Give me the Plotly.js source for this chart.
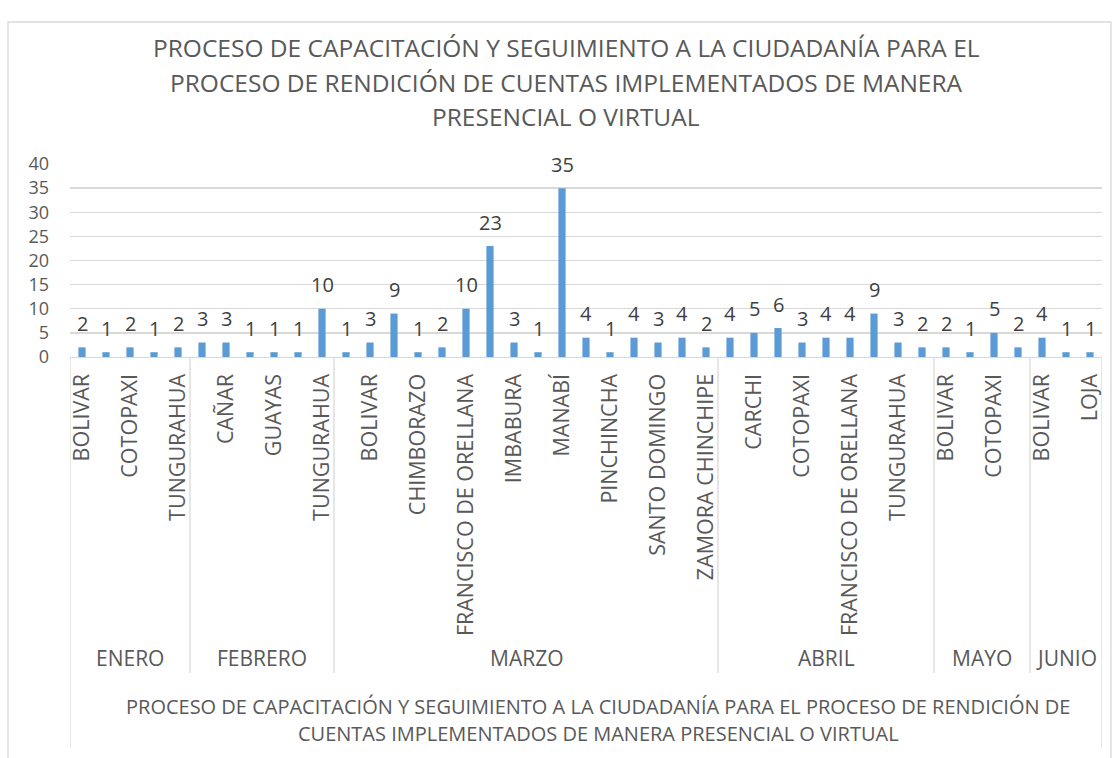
<!DOCTYPE html>
<html><head><meta charset="utf-8">
<script src="https://cdn.plot.ly/plotly-3.0.1.min.js"></script>
<style>html,body{margin:0;padding:0;background:#fff}#chart{width:1119px;height:758px}</style>
</head><body><div id="chart"></div>
<script>
const months = ["ENERO", "FEBRERO", "MARZO", "ABRIL", "MAYO", "JUNIO"];
const monthCounts = [5, 6, 16, 9, 4, 3];
const provinces = [
  "BOLIVAR", "", "COTOPAXI", "", "TUNGURAHUA",
  "", "CAÑAR", "", "GUAYAS", "", "TUNGURAHUA",
  "", "BOLIVAR", "", "CHIMBORAZO", "", "FRANCISCO DE ORELLANA", "", "IMBABURA", "", "MANABÍ", "", "PINCHINCHA", "", "SANTO DOMINGO", "", "ZAMORA CHINCHIPE",
  "", "CARCHI", "", "COTOPAXI", "", "FRANCISCO DE ORELLANA", "", "TUNGURAHUA", "",
  "BOLIVAR", "", "COTOPAXI", "",
  "BOLIVAR", "", "LOJA"
];
const values = [
  2, 1, 2, 1, 2,
  3, 3, 1, 1, 1, 10,
  1, 3, 9, 1, 2, 10, 23, 3, 1, 35, 4, 1, 4, 3, 4, 2,
  4, 5, 6, 3, 4, 4, 9, 3, 2,
  2, 1, 5, 2,
  4, 1, 1
];
const titleLines = [
  "PROCESO DE CAPACITACIÓN Y SEGUIMIENTO A LA CIUDADANÍA PARA EL",
  "PROCESO DE RENDICIÓN DE CUENTAS IMPLEMENTADOS DE MANERA",
  "PRESENCIAL O VIRTUAL"
];
const axisTitleLines = [
  "PROCESO DE CAPACITACIÓN Y SEGUIMIENTO A LA CIUDADANÍA PARA EL PROCESO DE RENDICIÓN DE",
  "CUENTAS IMPLEMENTADOS DE MANERA PRESENCIAL O VIRTUAL"
];

// layout geometry (pixels)
const W = 1119, H = 758;
const L = 70, R = 1102, T = 164, B = 357;
const px = x => (x - L) / (R - L);
const py = y => (B - y) / (B - T);
const FONT = "Open Sans, sans-serif";
const GRAY = "#595959";
const LINE = "#d9d9d9";

const idx = values.map((_, i) => i);

const annotations = [];
// data labels
values.forEach((v, i) => {
  annotations.push({x: i, y: v, xref: "x", yref: "y", text: String(v), showarrow: false,
    yanchor: "middle", yshift: 24, font: {family: FONT, size: 20, color: "#404040"}});
});
// title lines
const titleY = [47, 82, 116];
titleLines.forEach((t, k) => {
  annotations.push({x: px(566), y: py(titleY[k]), xref: "paper", yref: "paper", text: t, showarrow: false,
    xanchor: "center", yanchor: "middle", font: {family: FONT, size: 24.5, color: GRAY}});
});
// axis title lines
const axY = [706, 733];
axisTitleLines.forEach((t, k) => {
  annotations.push({x: px(598), y: py(axY[k]), xref: "paper", yref: "paper", text: t, showarrow: false,
    xanchor: "center", yanchor: "middle", font: {family: FONT, size: 20, color: GRAY}});
});

const shapes = [];
// group labels and separators
let start = 0;
const bounds = [-0.5];
months.forEach((m, k) => {
  const end = start + monthCounts[k];
  annotations.push({x: (start + end - 1) / 2, y: py(658), xref: "x", yref: "paper", text: m, showarrow: false,
    xanchor: "center", yanchor: "middle", font: {family: FONT, size: 21, color: GRAY}});
  bounds.push(end - 0.5);
  start = end;
});
bounds.forEach((b, k) => {
  const outer = (k === 0 || k === bounds.length - 1);
  shapes.push({type: "line", xref: "x", yref: "paper", x0: b, x1: b, y0: 0, y1: py(outer ? 748 : 673),
    line: {color: LINE, width: 1.3}});
});
// chart border
shapes.push({type: "rect", xref: "paper", yref: "paper", x0: px(8), x1: px(1111), y0: py(22), y1: py(800),
  line: {color: LINE, width: 1.3}, fillcolor: "rgba(0,0,0,0)"});

const data = [{
  type: "bar", x: idx, y: values, width: 0.3,
  marker: {color: "#5b9bd5"}, hoverinfo: "y"
}];

const layout = {
  width: W, height: H,
  margin: {l: L, r: W - R, t: T, b: H - B, pad: 0},
  paper_bgcolor: "#fff", plot_bgcolor: "#fff",
  showlegend: false,
  font: {family: FONT, color: GRAY},
  xaxis: {
    range: [-0.5, values.length - 0.5], tickmode: "array", tickvals: idx, ticktext: provinces,
    tickangle: -90, tickfont: {family: FONT, size: 21.5, color: GRAY}, ticks: "",
    ticklabelstandoff: 7, showgrid: false, zeroline: false,
    showline: true, linecolor: LINE, linewidth: 1.3
  },
  yaxis: {
    range: [0, 40], dtick: 5, tick0: 0, tickfont: {family: FONT, size: 18, color: GRAY},
    gridcolor: LINE, gridwidth: 1.3, zeroline: false, showline: false, ticks: "",
    ticklabelstandoff: 20
  },
  annotations: annotations,
  shapes: shapes
};

Plotly.newPlot("chart", data, layout, {displayModeBar: false, staticPlot: true});
</script>
</body></html>
